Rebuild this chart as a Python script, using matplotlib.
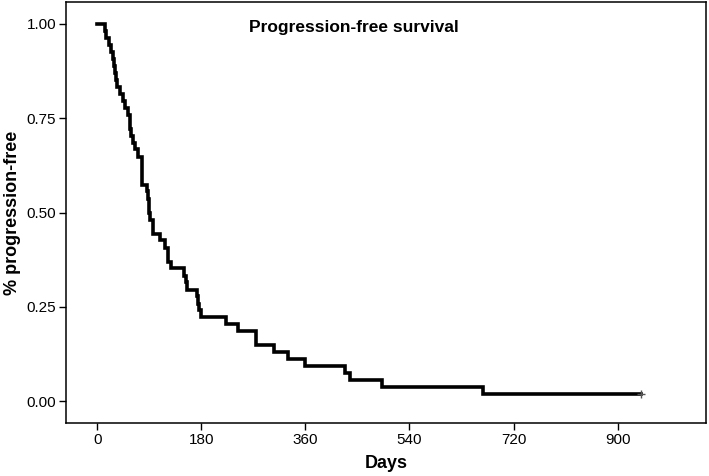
import numpy as np
import matplotlib
matplotlib.use("Agg")
from matplotlib import pyplot as plt

# Kaplan-Meier steps (day of event, survival after it)
days = [0, 13, 16, 20, 24, 27, 29, 31, 33, 35, 39, 44, 48, 53, 56, 57, 59, 62, 66, 71,
        77, 86, 88, 90, 91, 96, 108, 117, 122, 127, 150, 153, 155, 172, 174, 176, 180,
        222, 244, 275, 306, 330, 359, 428, 437, 492, 667]
surv = [1.000, 0.981, 0.963, 0.944, 0.926, 0.907, 0.889, 0.870, 0.852, 0.833, 0.815,
        0.796, 0.778, 0.759, 0.741, 0.722, 0.704, 0.685, 0.667, 0.648,
        0.574, 0.556, 0.537, 0.500, 0.481, 0.444, 0.426, 0.407, 0.370, 0.352, 0.333,
        0.315, 0.296, 0.278, 0.259, 0.241, 0.222,
        0.204, 0.185, 0.148, 0.130, 0.111, 0.093, 0.074, 0.056, 0.037, 0.019]
last_day = 940
censor_days = [940]
censor_surv = [0.019]

xticks = [0, 180, 360, 540, 720, 900]
yticks = [0.00, 0.25, 0.50, 0.75, 1.00]

plt.rcParams['font.family'] = ['Liberation Sans', 'DejaVu Sans']

fig = plt.figure(figsize=(7.09, 4.76), dpi=100)
ax = fig.add_axes([0.093, 0.111, 0.903, 0.885])

x = days + [last_day]
y = surv + [surv[-1]]
ax.step(x, y, where='post', color='black', lw=2.6, solid_joinstyle='miter')
ax.plot(censor_days, censor_surv, marker='+', ls='none', color='#555555', ms=6, mew=1)

ax.set_xlim(-54, 1053)
ax.set_ylim(-0.058, 1.058)
ax.set_xticks(xticks)
ax.set_xticklabels([str(t) for t in xticks])
ax.set_yticks(yticks)
ax.set_yticklabels(['%.2f' % t for t in yticks])
ax.tick_params(direction='out', length=5, width=1, labelsize=11, colors='black', pad=2)
for s in ax.spines.values():
    s.set_linewidth(1.1)

ax.set_xlabel('Days', fontsize=13, fontweight='bold', labelpad=6)
ax.set_ylabel('% progression-free', fontsize=13, fontweight='bold', labelpad=4)
ax.text(0.45, 0.94, 'Progression-free survival', transform=ax.transAxes,
        fontsize=12.5, fontweight='bold', ha='center', va='center')

fig.savefig('out.png', dpi=100)
